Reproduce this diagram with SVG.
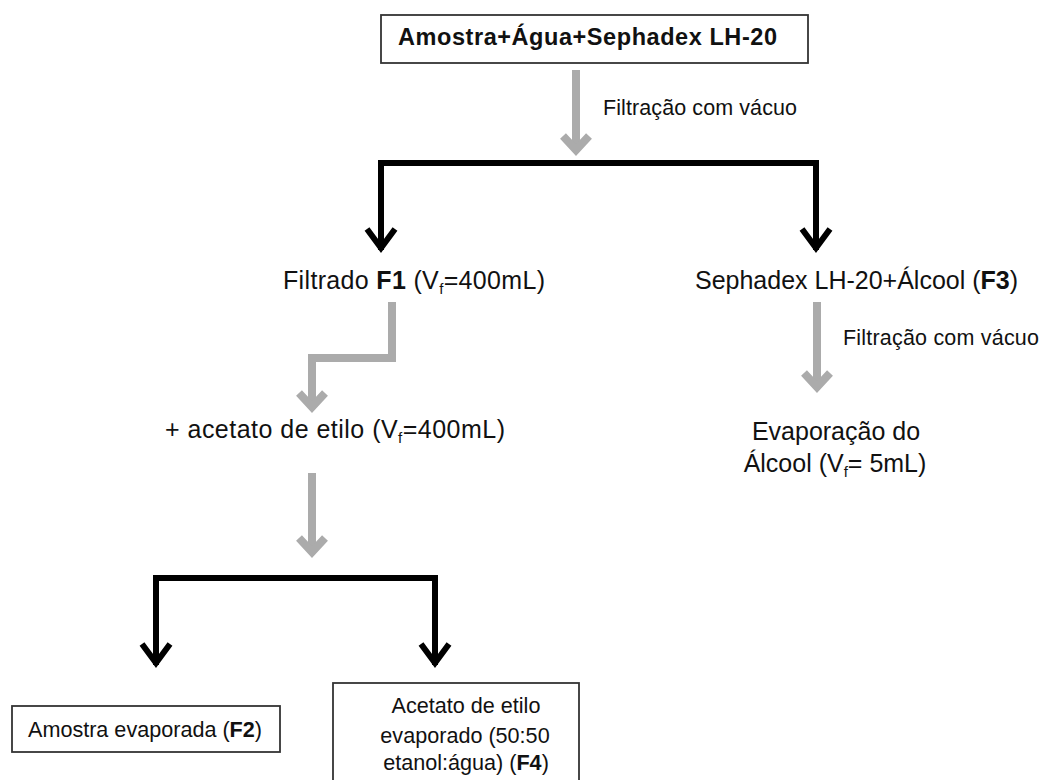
<svg xmlns="http://www.w3.org/2000/svg" width="1043" height="780" viewBox="0 0 1043 780">
<style>
.box{fill:#fff;stroke:#333;stroke-width:1.8}
.t{font-family:"Liberation Sans",Arial,sans-serif;fill:#111}
.big{font-size:25px}
.mid{font-size:21.6px}
.b{font-weight:bold}
.blk{fill:none;stroke:#000;stroke-width:6;stroke-linejoin:miter;stroke-miterlimit:10}
.gry{fill:none;stroke:#ababab;stroke-width:8;stroke-linejoin:miter;stroke-miterlimit:10}
</style>
<rect width="1043" height="780" fill="#fff"/>
<g id="connectors">
  <path class="gry" d="M576,70 L576,149"/>
  <path class="gry" d="M563,136 L576,150 L589,136"/>
  <path class="blk" d="M381,250 L381,163 L816,163 L816,250"/>
  <path class="blk" d="M367,229 L381,248 L395,229"/>
  <path class="blk" d="M802,229 L816,248 L830,229"/>
  <path class="gry" d="M392,302 L392,358 L312,358 L312,406"/>
  <path class="gry" d="M299,393 L312,407 L325,393"/>
  <path class="gry" d="M817,302 L817,386"/>
  <path class="gry" d="M804,373 L817,387 L830,373"/>
  <path class="gry" d="M312,473 L312,551"/>
  <path class="gry" d="M299,538 L312,552 L325,538"/>
  <path class="blk" d="M156,665 L156,578 L435,578 L435,665"/>
  <path class="blk" d="M142,644 L156,663 L170,644"/>
  <path class="blk" d="M421,644 L435,663 L449,644"/>
</g>
<g id="n-start">
  <rect class="box" x="381" y="15" width="427" height="48"/>
  <text class="t b" x="398" y="45" font-size="23.5" textLength="379" lengthAdjust="spacing">Amostra+Água+Sephadex LH-20</text>
</g>
<g id="lbl-filtr1">
  <text class="t" x="603" y="115" font-size="21.5" textLength="194" lengthAdjust="spacing">Filtração com vácuo</text>
</g>
<g id="n-f1">
  <text class="t big" x="283" y="289" textLength="262" lengthAdjust="spacing">Filtrado <tspan class="b">F1</tspan> (V<tspan font-size="15" dy="5">f</tspan><tspan dy="-5">=400mL)</tspan></text>
</g>
<g id="n-f3">
  <text class="t big" x="695" y="289" textLength="323" lengthAdjust="spacing">Sephadex LH-20+Álcool (<tspan class="b">F3</tspan>)</text>
</g>
<g id="lbl-filtr2">
  <text class="t" x="843" y="345" font-size="21.5" textLength="196" lengthAdjust="spacing">Filtração com vácuo</text>
</g>
<g id="n-evap">
  <text class="t big" x="836" y="440" text-anchor="middle">Evaporação do</text>
  <text class="t big" x="835" y="472" text-anchor="middle">Álcool (V<tspan font-size="15" dy="5">f</tspan><tspan dy="-5">= 5mL)</tspan></text>
</g>
<g id="n-acetato">
  <text class="t big" x="165" y="438" textLength="340" lengthAdjust="spacing">+ acetato de etilo (V<tspan font-size="15" dy="5">f</tspan><tspan dy="-5">=400mL)</tspan></text>
</g>
<g id="n-f2">
  <rect class="box" x="12" y="706" width="268" height="46"/>
  <text class="t mid" x="28" y="737" textLength="234" lengthAdjust="spacing">Amostra evaporada (<tspan class="b">F2</tspan>)</text>
</g>
<g id="n-f4">
  <rect class="box" x="333" y="683" width="246" height="110"/>
  <text class="t mid" x="466" y="713" text-anchor="middle">Acetato de etilo</text>
  <text class="t mid" x="465" y="743" text-anchor="middle">evaporado (50:50</text>
  <text class="t mid" x="466" y="770" text-anchor="middle">etanol:água) (<tspan class="b">F4</tspan>)</text>
</g>
</svg>
